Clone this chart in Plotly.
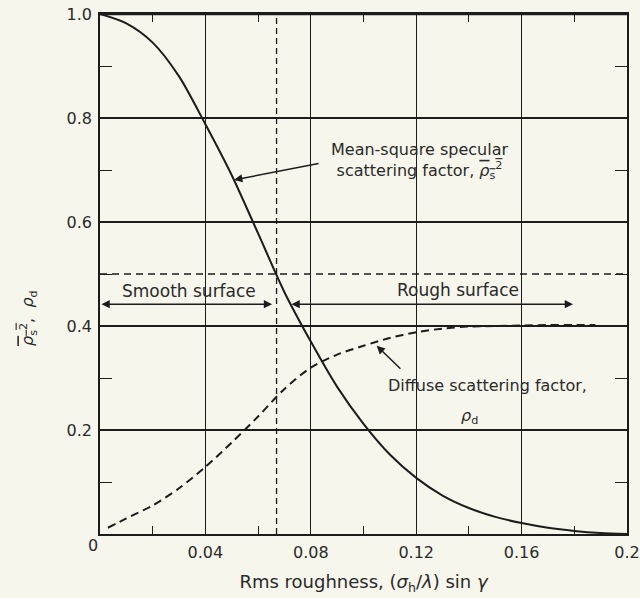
import plotly.graph_objects as go

# ---- data ----
spec_x = [0.0, 0.01, 0.02, 0.03, 0.04, 0.05, 0.06, 0.07, 0.08, 0.09, 0.10,
          0.11, 0.12, 0.13, 0.14, 0.15, 0.16, 0.17, 0.18, 0.19, 0.20]
spec_y = [1.0, 0.982, 0.945, 0.88, 0.788, 0.69, 0.578, 0.465, 0.37, 0.283, 0.212,
          0.153, 0.108, 0.074, 0.05, 0.033, 0.021, 0.012, 0.006, 0.002, 0.0]

diff_x = [0.003, 0.01, 0.02, 0.03, 0.04, 0.05, 0.06, 0.07, 0.08, 0.09, 0.10,
          0.11, 0.12, 0.13, 0.14, 0.15, 0.16, 0.17, 0.18, 0.188]
diff_y = [0.012, 0.03, 0.055, 0.088, 0.129, 0.176, 0.226, 0.279, 0.32, 0.345, 0.362,
          0.377, 0.388, 0.395, 0.399, 0.40, 0.401, 0.402, 0.402, 0.402]

x_ticks = [0.04, 0.08, 0.12, 0.16, 0.2]
x_ticktext = ["0.04", "0.08", "0.12", "0.16", "0.2"]
y_ticks = [0.2, 0.4, 0.6, 0.8, 1.0]
y_ticktext = ["0.2", "0.4", "0.6", "0.8", "1.0"]
x_minor = [0.02, 0.06, 0.10, 0.14, 0.18]
y_minor = [0.1, 0.3, 0.5, 0.7, 0.9]

boundary_x = 0.067      # smooth / rough boundary
boundary_y = 0.5

INK = "#1c1c1c"
TXT = "#2a2a2a"
BG = "#f6f6ec"
FONT = "DejaVu Sans"
RHO_S2 = ("<span style='text-decoration:overline'><i>ρ</i><sub>s</sub>"
          "<sup>2</sup></span>")

fig = go.Figure()

# boundary dashed lines
fig.add_trace(go.Scatter(x=[boundary_x, boundary_x], y=[0, 1.0], mode="lines",
                         line=dict(color=INK, width=1.3, dash="6px,4px"),
                         showlegend=False, hoverinfo="skip"))
fig.add_trace(go.Scatter(x=[0, 0.2], y=[boundary_y, boundary_y], mode="lines",
                         line=dict(color=INK, width=1.6, dash="7px,5px"),
                         showlegend=False, hoverinfo="skip"))

fig.add_trace(go.Scatter(x=spec_x, y=spec_y, mode="lines", line_shape="spline",
                         line=dict(color=INK, width=2, smoothing=0.8),
                         showlegend=False, hoverinfo="skip"))
fig.add_trace(go.Scatter(x=diff_x, y=diff_y, mode="lines", line_shape="spline",
                         line=dict(color=INK, width=2, dash="8px,5px", smoothing=0.8),
                         showlegend=False, hoverinfo="skip"))

ann = []
def label(text, x, y, size=16, **kw):
    ann.append(dict(text=text, x=x, y=y, xref="x", yref="y", showarrow=False,
                    font=dict(family=FONT, size=size, color=TXT), **kw))

def arrow(x, y, ax, ay, side="end"):
    ann.append(dict(text="", x=x, y=y, ax=ax, ay=ay, xref="x", yref="y",
                    axref="x", ayref="y", showarrow=True, arrowhead=2,
                    arrowsize=1.1, arrowwidth=1.5, arrowcolor=INK, arrowside=side))

label("Smooth surface", 0.0338, 0.467, size=17)
label("Rough surface", 0.1359, 0.469, size=17)
label("Mean-square specular<br>scattering factor, " + RHO_S2,
      0.1214, 0.717, size=16)
label("Diffuse scattering factor,", 0.1469, 0.285, size=16)
label("<i>ρ</i><sub>d</sub>", 0.1404, 0.226, size=16)

arrow(0.0653, 0.442, 0.0, 0.442, side="end+start")
arrow(0.1795, 0.442, 0.0721, 0.442, side="end+start")
arrow(0.0509, 0.681, 0.0835, 0.713)
arrow(0.105, 0.362, 0.1146, 0.315)

# corner "0" label
ann.append(dict(text="0", x=-0.013, y=-0.023, xref="paper", yref="paper",
                xanchor="center", yanchor="middle",
                showarrow=False, font=dict(family=FONT, size=16, color=TXT)))
# y title
ann.append(dict(text=RHO_S2 + ",  <i>ρ</i><sub>d</sub>",
                x=-0.137, y=0.415, xref="paper", yref="paper", textangle=-90,
                xanchor="center", yanchor="middle",
                showarrow=False, font=dict(family=FONT, size=16, color=TXT)))

fig.update_layout(
    width=640, height=598,
    margin=dict(l=100, r=13, t=14, b=64, autoexpand=False),
    paper_bgcolor=BG, plot_bgcolor=BG,
    font=dict(family=FONT, size=16, color=TXT),
    annotations=ann,
    shapes=[dict(type="line", xref="x", yref="y", x0=0, x1=0.2, y0=1.0, y1=1.0,
                 line=dict(color=INK, width=2.5))],
    xaxis=dict(range=[0, 0.2], tickvals=x_ticks, ticktext=x_ticktext,
               showgrid=True, gridcolor=INK, gridwidth=1, zeroline=False,
               showline=True, linecolor=INK, linewidth=2, mirror="allticks",
               ticks="", ticklabelstandoff=3, automargin=False,
               tickfont=dict(family=FONT, size=16, color=TXT),
               minor=dict(tickvals=x_minor, ticks="inside", ticklen=8,
                          tickcolor=INK, tickwidth=1, showgrid=False),
               title=dict(text="Rms roughness, (<i>σ</i><sub>h</sub>/<i>λ</i>) sin <i>γ</i>",
                          font=dict(family=FONT, size=18, color=TXT), standoff=14)),
    yaxis=dict(range=[0, 1.0], tickvals=y_ticks, ticktext=y_ticktext,
               showgrid=True, gridcolor=INK, gridwidth=2, zeroline=False,
               showline=True, linecolor=INK, linewidth=1.5, mirror="allticks",
               ticks="", ticklabelstandoff=3, automargin=False,
               tickfont=dict(family=FONT, size=16, color=TXT),
               minor=dict(tickvals=y_minor, ticks="inside", ticklen=12,
                          tickcolor=INK, tickwidth=1.2, showgrid=False)),
)

fig.write_html("out.html")
